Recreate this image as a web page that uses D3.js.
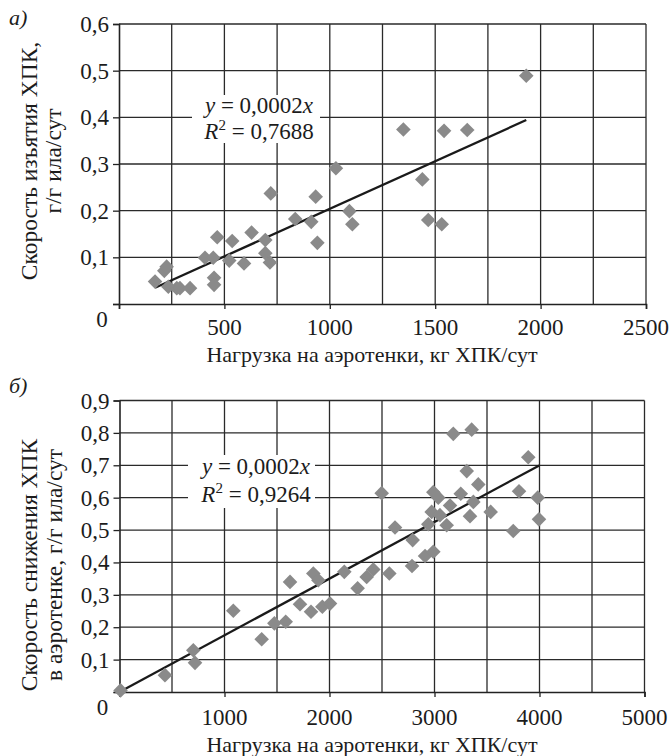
<!DOCTYPE html>
<html><head><meta charset="utf-8">
<script src="https://cdn.jsdelivr.net/npm/d3@7"></script>
<style>
body{margin:0;background:#fff;}
text{font-family:"Liberation Serif","Tinos","Times New Roman","DejaVu Serif",serif;fill:#1c1c1c;}
</style></head>
<body>
<svg id="c" width="672" height="756"></svg>
<script>
// Chart a)
const aX = [171,215,226,234,274,289,337,408,447,451,451,466,523,537,593,629,694,694,716,720,836,912,933,941,1029,1093,1107,1349,1439,1467,1531,1542,1652,1932];
const aY = [0.048,0.071,0.080,0.037,0.034,0.034,0.034,0.099,0.099,0.056,0.041,0.143,0.093,0.135,0.087,0.153,0.137,0.109,0.089,0.237,0.182,0.176,0.230,0.131,0.291,0.199,0.171,0.374,0.267,0.180,0.171,0.371,0.373,0.489];
const aTrend = {slope:0.000204, from:171, to:1932};
const aXTicks = [500,1000,1500,2000,2500];
const aXGrid = [250,500,750,1000,1250,1500,1750,2000,2250,2500];
const aYTicks = [0.1,0.2,0.3,0.4,0.5,0.6];
const aEq = ["y = 0,0002x", "R2 = 0,7688"];

// Chart б)
const bX = [10,433,703,719,1084,1354,1475,1583,1624,1719,1824,1846,1894,1932,2005,2141,2268,2354,2417,2497,2570,2624,2786,2792,2910,2941,2973,2989,2989,3036,3052,3116,3148,3179,3250,3307,3338,3354,3370,3417,3535,3750,3805,3893,3983,3995];
const bY = [0.005,0.052,0.129,0.090,0.251,0.163,0.212,0.217,0.340,0.271,0.248,0.366,0.345,0.263,0.273,0.371,0.320,0.355,0.378,0.614,0.366,0.508,0.389,0.469,0.420,0.518,0.556,0.433,0.617,0.600,0.546,0.515,0.576,0.797,0.612,0.682,0.543,0.810,0.587,0.641,0.556,0.497,0.620,0.725,0.600,0.533];
const bTrend = {slope:0.000175, from:0, to:3998};
const bXTicks = [1000,2000,3000,4000,5000];
const bXGrid = [500,1000,1500,2000,2500,3000,3500,4000,4500,5000];
const bYTicks = [0.1,0.2,0.3,0.4,0.5,0.6,0.7,0.8,0.9];
const bEq = ["y = 0,0002x", "R2 = 0,9264"];

const svg = d3.select("#c");
const fmt = v => d3.format(".1f")(v).replace(".", ",");
const FS = 23;

function chart(o){
  const g = svg.append("g");
  const x = d3.scaleLinear().domain([0,o.xMax]).range(o.xr);
  const y = d3.scaleLinear().domain([0,o.yMax]).range(o.yr);
  g.selectAll(".vg").data(o.xGrid).enter().append("line")
    .attr("x1",d=>x(d)).attr("x2",d=>x(d)).attr("y1",y(0)).attr("y2",y(o.yMax))
    .attr("stroke","#2a2a2a").attr("stroke-width",1.3);
  g.selectAll(".hg").data(o.yTicks).enter().append("line")
    .attr("x1",x(0)).attr("x2",x(o.xMax)).attr("y1",d=>y(d)).attr("y2",d=>y(d))
    .attr("stroke","#2a2a2a").attr("stroke-width",1.3);
  const ax = d3.axisBottom(x).tickValues([0].concat(o.xTicks)).tickSize(5).tickFormat("");
  const axg = g.append("g").attr("transform",`translate(0,${y(0)})`).call(ax);
  axg.select(".domain").attr("stroke","#222").attr("stroke-width",1.6);
  axg.selectAll(".tick line").attr("stroke","#222").attr("stroke-width",1.3);
  const ay = d3.axisLeft(y).tickValues([0].concat(o.yTicks)).tickSize(6).tickFormat("");
  const ayg = g.append("g").attr("transform",`translate(${x(0)},0)`).call(ay);
  ayg.select(".domain").attr("stroke","#222").attr("stroke-width",1.6);
  ayg.selectAll(".tick line").attr("stroke","#222").attr("stroke-width",1.3);
  g.selectAll(".xl").data(o.xTicks).enter().append("text")
    .attr("x",d=>x(d)).attr("y",y(0)+o.xlOff).attr("text-anchor","middle")
    .attr("font-size",FS).text(d=>d);
  g.selectAll(".yl").data(o.yTicks).enter().append("text")
    .attr("x",x(0)-10).attr("y",d=>y(d)+8).attr("text-anchor","end")
    .attr("font-size",FS).text(fmt);
  g.append("text").attr("x",x(0)-17).attr("y",y(0)+23).attr("text-anchor","middle")
    .attr("font-size",FS).text("0");
  g.append("line").attr("x1",x(o.trend.from)).attr("y1",y(o.trend.from*o.trend.slope))
    .attr("x2",x(o.trend.to)).attr("y2",y(o.trend.to*o.trend.slope))
    .attr("stroke","#1a1a1a").attr("stroke-width",2.3);
  const pts = o.xs.map((v,i)=>[v,o.ys[i]]);
  g.selectAll(".pt").data(pts).enter().append("path")
    .attr("d","M0,-7.3L7.3,0L0,7.3L-7.3,0Z")
    .attr("transform",d=>`translate(${x(d[0])},${y(d[1])})`)
    .attr("fill","#8a8a8a");
  const b = o.box;
  g.append("rect").attr("x",b[0]).attr("y",b[1]).attr("width",b[2]).attr("height",b[3]).attr("fill","#fff");
  const t1 = g.append("text").attr("x",o.eqX).attr("y",o.eqY[0]).attr("text-anchor","middle").attr("font-size",23);
  t1.append("tspan").attr("font-style","italic").text("y");
  t1.append("tspan").text(o.eq[0].slice(1,-1));
  t1.append("tspan").attr("font-style","italic").text("x");
  const t2 = g.append("text").attr("x",o.eqX).attr("y",o.eqY[1]).attr("text-anchor","middle").attr("font-size",23);
  t2.append("tspan").attr("font-style","italic").text("R");
  t2.append("tspan").attr("font-size",15).attr("dy",-9).text("2");
  t2.append("tspan").attr("dy",9).text(o.eq[1].slice(2));
  g.append("text").attr("x",372).attr("y",o.xtY).attr("text-anchor","middle").attr("font-size",22)
    .text("Нагрузка на аэротенки, кг ХПК/сут");
  o.yt.forEach((s,i)=>{
    g.append("text").attr("transform",`translate(${o.ytX[i]},${o.ytC}) rotate(-90)`)
      .attr("text-anchor","middle").attr("font-size",23.5).text(s);
  });
  g.append("text").attr("x",9).attr("y",o.lblY).attr("font-size",22).attr("font-style","italic").text(o.lbl);
}

chart({xMax:2500,yMax:0.6,xr:[119,646],yr:[304,24],xGrid:aXGrid,xTicks:aXTicks,yTicks:aYTicks,
  xs:aX,ys:aY,trend:aTrend,eq:aEq,box:[192,95,128,48],eqX:259,eqY:[113,139],xlOff:31,xtY:362,
  yt:["Скорость изъятия ХПК,","г/г ила/сут"],ytX:[37,61],ytC:161,lbl:"а)",lblY:25});
chart({xMax:5000,yMax:0.9,xr:[119.5,644.5],yr:[692,400.5],xGrid:bXGrid,xTicks:bXTicks,yTicks:bYTicks,
  xs:bX,ys:bY,trend:bTrend,eq:bEq,box:[188,455,127,53],eqX:256,eqY:[474,502],xlOff:33,xtY:752,
  yt:["Скорость снижения ХПК","в аэротенке, г/г ила/сут"],ytX:[37,62],ytC:565,lbl:"б)",lblY:393});
</script>
</body></html>
